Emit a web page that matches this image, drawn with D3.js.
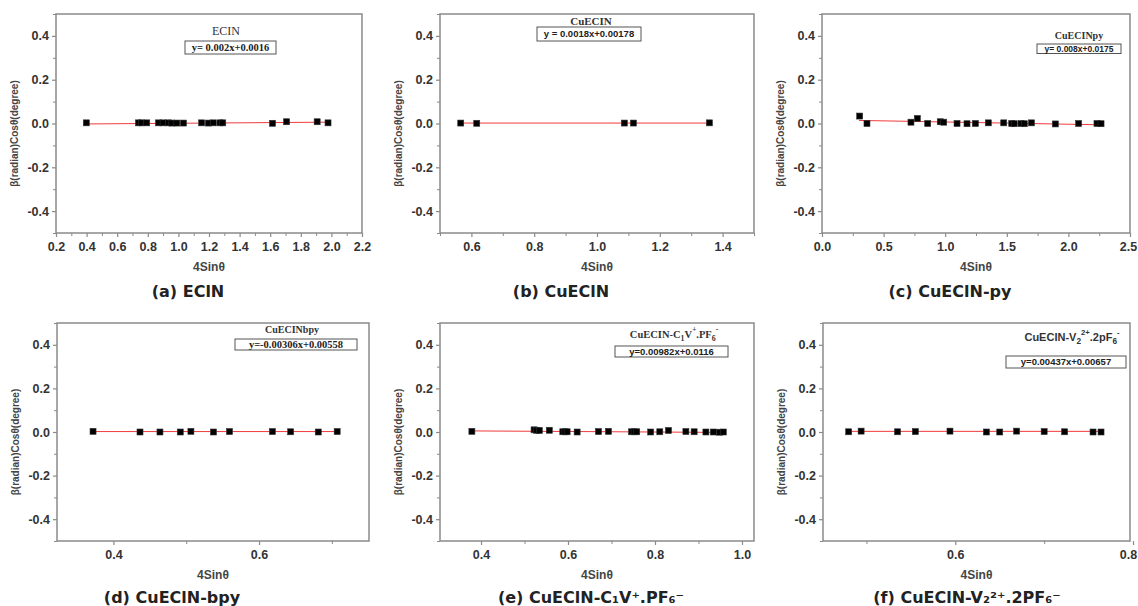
<!DOCTYPE html>
<html>
<head>
<meta charset="utf-8">
<script src="https://cdn.jsdelivr.net/npm/d3@7"></script>
<style>
  body { margin: 0; background: #fff; }
  svg { display: block; }
  .tick-lbl { font-family: "Liberation Sans", Arial, sans-serif; font-weight: bold; font-size: 12.5px; fill: #333; }
  .ax-title { font-family: "Liberation Sans", Arial, sans-serif; font-weight: bold; font-size: 10px; fill: #444; }
  .x-title { font-size: 12px; }
  .caption { font-family: "DejaVu Sans", sans-serif; font-weight: bold; font-size: 16px; fill: #222; }
</style>
</head>
<body>
<svg id="chart" width="1138" height="606"></svg>
<script>
// ---- data ----
// (a) EClN
const aX = [0.398, 0.739, 0.76, 0.793, 0.87, 0.90, 0.935, 0.957, 0.99, 1.033, 1.152, 1.196, 1.228, 1.272, 1.29, 1.615, 1.707, 1.907, 1.978];
const aY = [0.003, 0.003, 0.003, 0.003, 0.003, 0.003, 0.003, 0.002, 0.002, 0.002, 0.003, 0.002, 0.003, 0.003, 0.003, 0.001, 0.008, 0.008, 0.003];
const aFit = [[0.40, -0.002], [1.98, 0.006]];
const aXTicks = [0.2, 0.4, 0.6, 0.8, 1.0, 1.2, 1.4, 1.6, 1.8, 2.0, 2.2];
const aXMinor = [0.3, 0.5, 0.7, 0.9, 1.1, 1.3, 1.5, 1.7, 1.9, 2.1];

// (b) CuEClN
const bX = [0.566, 0.617, 1.087, 1.116, 1.358];
const bY = [0.002, 0.001, 0.002, 0.002, 0.003];
const bFit = [[0.566, 0.002], [1.358, 0.002]];
const bXTicks = [0.6, 0.8, 1.0, 1.2, 1.4];
const bXMinor = [0.5, 0.7, 0.9, 1.1, 1.3, 1.5];

// (c) CuEClN-py
const cX = [0.306, 0.365, 0.722, 0.774, 0.858, 0.96, 0.988, 1.096, 1.177, 1.245, 1.35, 1.475, 1.54, 1.56, 1.615, 1.642, 1.70, 1.894, 2.083, 2.232, 2.265];
const cY = [0.034, 0.0, 0.006, 0.023, 0.0, 0.008, 0.006, 0.0, -0.001, 0.0, 0.003, 0.003, 0.0, -0.001, 0.0, -0.001, 0.003, -0.002, 0.0, 0.0, -0.001];
const cFit = [[0.30, 0.014], [2.27, -0.006]];
const cXTicks = [0.0, 0.5, 1.0, 1.5, 2.0, 2.5];
const cXMinor = [0.25, 0.75, 1.25, 1.75, 2.25];

// (d) CuEClN-bpy
const dX = [0.372, 0.4365, 0.4639, 0.4918, 0.5064, 0.5374, 0.5594, 0.6183, 0.6434, 0.6813, 0.7073];
const dY = [0.003, 0.0, 0.0, 0.0, 0.003, 0.0, 0.002, 0.002, 0.001, 0.0, 0.002];
const dFit = [[0.372, 0.002], [0.707, 0.002]];
const dXTicks = [0.4, 0.6];
const dXMinor = [0.5, 0.7];

// (e) CuEClN-C1V+.PF6-
const eX = [0.379, 0.522, 0.528, 0.534, 0.557, 0.588, 0.593, 0.598, 0.621, 0.670, 0.693, 0.746, 0.752, 0.758, 0.790, 0.811, 0.831, 0.871, 0.890, 0.917, 0.934, 0.948, 0.957];
const eY = [0.003, 0.01, 0.008, 0.007, 0.008, 0.001, 0.001, 0.001, 0.0, 0.002, 0.003, 0.001, 0.001, 0.001, 0.0, 0.001, 0.007, 0.002, 0.001, 0.0, 0.0, -0.001, 0.0];
const eFit = [[0.379, 0.005], [0.957, -0.002]];
const eXTicks = [0.4, 0.6, 0.8, 1.0];
const eXMinor = [0.5, 0.7, 0.9];

// (f) CuEClN-V2 2+.2PF6-
const fX = [0.480, 0.494, 0.535, 0.555, 0.594, 0.635, 0.650, 0.669, 0.700, 0.723, 0.755, 0.764];
const fY = [0.001, 0.004, 0.001, 0.002, 0.004, 0.0, 0.0, 0.004, 0.002, 0.001, 0.0, 0.0];
const fFit = [[0.48, 0.003], [0.764, 0.003]];
const fXTicks = [0.6, 0.8];
const fXMinor = [0.5, 0.7];

const yTicks = [-0.4, -0.2, 0.0, 0.2, 0.4];
const yMinor = [-0.5, -0.3, -0.1, 0.1, 0.3, 0.5];

const captions = ["(a) EClN", "(b) CuEClN", "(c) CuEClN-py", "(d) CuEClN-bpy", "(e) CuEClN-C₁V⁺.PF₆⁻", "(f) CuEClN-V₂²⁺.2PF₆⁻"];
const eqs = ["y= 0.002x+0.0016", "y = 0.0018x+0.00178", "y= 0.008x+0.0175", "y=-0.00306x+0.00558", "y=0.00982x+0.0116", "y=0.00437x+0.00657"];

// ---- layout ----
const SERIF = "'Liberation Serif', 'Times New Roman', serif";
const SANS = "'Liberation Sans', Arial, sans-serif";
const W = 1138;
const panels = [
  { x: aX, y: aY, fit: aFit, ticks: aXTicks, minor: aXMinor, l: 56, r: 362, t: 14, b: 233, dom: [0.2, 2.2],
    cap: [188, 297], leg: { title: [["ECIN"]], tx: 226, ty: 35, tFont: SERIF, tW: "normal", tSize: 12, bx: 185, by: 41, bw: 91, bh: 13, eFont: SERIF, eSize: 10.5 } },
  { x: bX, y: bY, fit: bFit, ticks: bXTicks, minor: bXMinor, l: 440, r: 754, t: 14, b: 233, dom: [0.5, 1.5],
    cap: [561, 297], leg: { title: [["CuECIN"]], tx: 591, ty: 25, tFont: SERIF, tW: "bold", tSize: 11, bx: 537, by: 27, bw: 104, bh: 14, eFont: SANS, eSize: 9.5 } },
  { x: cX, y: cY, fit: cFit, ticks: cXTicks, minor: cXMinor, l: 822, r: 1130, t: 14, b: 233, dom: [0, 2.5],
    cap: [950, 297], leg: { title: [["CuECINpy"]], tx: 1079, ty: 39, tFont: SERIF, tW: "bold", tSize: 10, bx: 1037, by: 44, bw: 84, bh: 9.5, eFont: SANS, eSize: 8.5 } },
  { x: dX, y: dY, fit: dFit, ticks: dXTicks, minor: dXMinor, l: 57, r: 369, t: 323, b: 541, dom: [0.3225, 0.751],
    cap: [172, 603], leg: { title: [["CuECINbpy"]], tx: 292, ty: 333, tFont: SERIF, tW: "bold", tSize: 10, bx: 235, by: 339, bw: 122, bh: 11, eFont: SERIF, eSize: 10.5 } },
  { x: eX, y: eY, fit: eFit, ticks: eXTicks, minor: eXMinor, l: 440, r: 754, t: 323, b: 541, dom: [0.3057, 1.0276],
    cap: [591, 603], leg: { title: [["CuECIN-C"], ["1", "sub"], ["V"], ["+", "sup"], [".PF"], ["6", "sub"], ["-", "sup"]], tx: 674, ty: 338, tFont: SERIF, tW: "bold", tSize: 10.5, bx: 615, by: 346, bw: 113, bh: 11, eFont: SANS, eSize: 9.5 } },
  { x: fX, y: fY, fit: fFit, ticks: fXTicks, minor: fXMinor, l: 823, r: 1130, t: 323, b: 541, dom: [0.4511, 0.7966],
    cap: [967, 603], leg: { title: [["CuECIN-V"], ["2", "sub"], ["2+", "sup"], [".2pF"], ["6", "sub"], ["-", "sup"]], tx: 1072, ty: 341, tFont: SANS, tW: "bold", tSize: 11, bx: 1006, by: 356, bw: 120, bh: 12, eFont: SANS, eSize: 9.5 } }
];

const svg = d3.select("#chart");
const frameColor = "#8a8a8a";

// place tspans for sub/superscripts, returning to the baseline after each
function writeTitle(text, parts, size) {
  let shift = 0;
  parts.forEach(part => {
    const ts = text.append("tspan").text(part[0]);
    let target = 0;
    if (part[1] === "sub") { target = 3; ts.attr("font-size", size * 0.75); }
    if (part[1] === "sup") { target = -6; ts.attr("font-size", size * 0.7); }
    if (target !== shift) ts.attr("dy", target - shift);
    shift = target;
  });
}

panels.forEach((p, i) => {
  const x = d3.scaleLinear().domain(p.dom).range([p.l, p.r]);
  const y = d3.scaleLinear().domain([-0.5, 0.5]).range([p.b, p.t]);
  const g = svg.append("g");

  // minor ticks
  g.append("g").attr("transform", `translate(0,${p.b})`)
    .call(d3.axisBottom(x).tickValues(p.minor).tickSize(3).tickFormat(""))
    .call(s => { s.select(".domain").remove(); s.selectAll("line").attr("stroke", frameColor); });
  g.append("g").attr("transform", `translate(${p.l},0)`)
    .call(d3.axisLeft(y).tickValues(yMinor).tickSize(3).tickFormat(""))
    .call(s => { s.select(".domain").remove(); s.selectAll("line").attr("stroke", frameColor); });

  // major ticks + labels
  g.append("g").attr("transform", `translate(0,${p.b})`)
    .call(d3.axisBottom(x).tickValues(p.ticks).tickSize(4).tickPadding(5).tickFormat(d => d.toFixed(1)))
    .call(s => {
      s.select(".domain").remove();
      s.selectAll("line").attr("stroke", frameColor).attr("stroke-width", 1.2);
      s.selectAll("text").attr("class", "tick-lbl").attr("font-size", null).attr("font-family", null).attr("fill", null)
        .attr("dx", d => (x(d) + 10 > W ? W - 10 - x(d) : 0));
    });
  g.append("g").attr("transform", `translate(${p.l},0)`)
    .call(d3.axisLeft(y).tickValues(yTicks).tickSize(4).tickPadding(3).tickFormat(d => d.toFixed(1)))
    .call(s => {
      s.select(".domain").remove();
      s.selectAll("line").attr("stroke", frameColor).attr("stroke-width", 1.2);
      s.selectAll("text").attr("class", "tick-lbl").attr("font-size", null).attr("font-family", null).attr("fill", null);
    });

  // frame
  g.append("rect")
    .attr("x", p.l).attr("y", p.t)
    .attr("width", p.r - p.l).attr("height", p.b - p.t)
    .attr("fill", "none").attr("stroke", frameColor).attr("stroke-width", 1.5);

  // fit line
  g.append("path")
    .attr("d", d3.line().x(d => x(d[0])).y(d => y(d[1]))(p.fit))
    .attr("stroke", "#f03a3a").attr("stroke-width", 1).attr("fill", "none");

  // points
  g.append("g").selectAll("rect")
    .data(p.x.map((v, k) => [v, p.y[k]]))
    .join("rect")
    .attr("x", d => x(d[0]) - 3).attr("y", d => y(d[1]) - 3)
    .attr("width", 6).attr("height", 6)
    .attr("fill", "#000").attr("stroke", "#333").attr("stroke-width", 0.6);

  // axis titles
  g.append("text").attr("class", "ax-title x-title")
    .attr("x", (p.l + p.r) / 2).attr("y", p.b + 38)
    .attr("text-anchor", "middle").text("4Sinθ");
  g.append("text").attr("class", "ax-title")
    .attr("transform", `translate(${p.l - 38},${(p.t + p.b) / 2 + 10}) rotate(-90)`)
    .attr("text-anchor", "middle").text("β(radian)Cosθ(degree)");

  // legend
  const L = p.leg;
  const tt = g.append("text")
    .attr("x", L.tx).attr("y", L.ty)
    .attr("text-anchor", "middle")
    .attr("font-family", L.tFont).attr("font-weight", L.tW)
    .attr("font-size", L.tSize).attr("fill", "#333");
  writeTitle(tt, L.title, L.tSize);
  g.append("rect")
    .attr("x", L.bx).attr("y", L.by).attr("width", L.bw).attr("height", L.bh)
    .attr("fill", "#fff").attr("stroke", "#555").attr("stroke-width", 1);
  g.append("text")
    .attr("x", L.bx + L.bw / 2).attr("y", L.by + L.bh / 2)
    .attr("dy", "0.35em").attr("text-anchor", "middle")
    .attr("font-family", L.eFont).attr("font-weight", "bold")
    .attr("font-size", L.eSize).attr("fill", "#222")
    .text(eqs[i]);

  // caption
  svg.append("text").attr("class", "caption")
    .attr("x", p.cap[0]).attr("y", p.cap[1])
    .attr("text-anchor", "middle").text(captions[i]);
});
</script>
</body>
</html>
